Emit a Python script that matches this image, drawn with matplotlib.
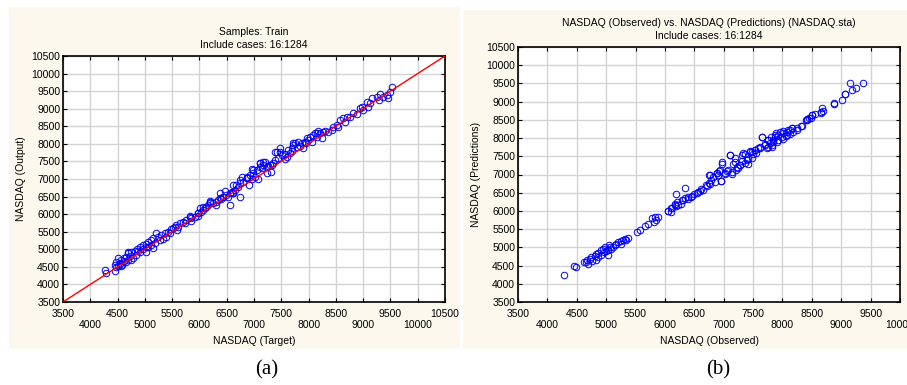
import numpy as np
import matplotlib
matplotlib.use("Agg")
import matplotlib.pyplot as plt
from matplotlib.patches import Rectangle
from matplotlib.ticker import MultipleLocator, FixedLocator

plt.rcParams['font.family'] = ['Liberation Sans', 'DejaVu Sans']

# panel (a): training samples, target vs output
train_target = [9522, 9492, 9430, 9369, 9308, 9247, 9296, 9461, 9155, 9125, 9064, 9094, 8972, 8941, 9003,
                8819, 8758, 8636, 8666, 8575, 8513, 8452, 8422, 8361, 8269, 8208, 8177, 8116, 8086, 8147,
                8024, 7994, 8055, 7933, 7872, 7841, 7811, 7750, 7719, 7780, 7688, 7627, 7658, 7566, 7597,
                7505, 7413, 7444, 7383, 7352, 7291, 7230, 7199, 7107, 7138, 7046, 6985, 7016, 6924, 6863,
                6802, 6771, 6740, 6679, 6649, 6588, 6557, 6496, 6435, 6465, 6740, 7474, 7168,
                6557, 6618, 6374, 6312, 6251, 6202, 6159, 6098, 6007, 6037, 5976, 5915, 5854, 5823,
                5762, 5701, 5640, 5579, 5548, 5487, 5426, 5365, 5304, 5243, 5212, 5151, 5120, 5059, 5029,
                4967, 4906, 4857, 4815, 4753, 4692, 4723, 4662, 4613, 4570, 4509, 4540, 4479, 4448, 4509,
                4589, 4650, 4692, 4784, 4845, 4906, 4967, 5016, 5059, 5120, 5182, 5029, 5151, 5273, 5395,
                5456, 5518, 5609, 5731, 5854, 6128, 6189, 6343, 6435, 4264, 4295, 4448, 4692, 4479, 4552,
                8890, 8700, 8540, 8300, 8240, 7900, 7960, 7560, 7700, 7320, 7260, 7080, 6900, 6960, 6620,
                6880, 7240, 7330, 6700, 6520, 4620, 4560, 4750, 4880, 5340, 5580, 5980, 6070, 6300, 6400,
                6743, 6620, 6957, 7109, 7170, 6193, 6070, 6376, 5979, 5827,
                7384, 7475, 7719, 6986, 7109, 6865, 7965, 8148]
train_output = [9608, 9485, 9390, 9343, 9409, 9324, 9248, 9295, 9295, 9153, 9200, 9058, 9058, 9011, 8963,
                8869, 8774, 8726, 8631, 8679, 8537, 8489, 8394, 8347, 8347, 8300, 8375, 8318, 8252, 8205,
                8205, 8110, 8062, 8062, 8015, 7939, 8062, 8034, 7967, 7920, 7873, 7825, 7730, 7711, 7636,
                7683, 7778, 7588, 7541, 7446, 7398, 7351, 7493, 7446, 7304, 7256, 7161, 7067, 7114, 7019,
                6924, 7067, 6876, 6829, 6687, 6640, 6592, 6545, 6478, 6668, 6497, 7778, 7493,
                6260, 6592, 6450, 6355, 6308, 6383, 6260, 6165, 6165, 6071, 6023, 5928, 5881, 5947,
                5833, 5786, 5739, 5691, 5625, 5568, 5501, 5473, 5407, 5359, 5454, 5312, 5264, 5217, 5151,
                5122, 5056, 4999, 4961, 4932, 4932, 4809, 4790, 4743, 4695, 4743, 4619, 4648, 4553, 4524,
                4553, 4648, 4695, 4743, 4838, 4932, 4999, 5056, 5075, 5122, 5170, 4932, 5028, 5264, 5359,
                5473, 5596, 5644, 5757, 5814, 6213, 6308, 6402, 6497, 4411, 4316, 4383, 4885, 4506, 4581,
                8850, 8760, 8480, 8380, 8160, 7880, 8020, 7560, 7800, 7200, 7380, 7000, 6820, 7000, 6600,
                7020, 7180, 7400, 6760, 6480, 4660, 4520, 4700, 4960, 5300, 5560, 5940, 6120, 6260, 6420,
                6971, 6829, 7275, 7446, 7398, 6354, 6211, 6592, 6023, 5927,
                7776, 7873, 8015, 7256, 7350, 7065, 8158, 8300]
fit_range = [3500, 10500]

# panel (b): observed vs predictions
obs = [9376, 9149, 9251, 9177, 9063, 9007, 8876, 8683, 8649, 8501, 8456, 8411, 8325, 8167, 8098,
       8013, 7957, 7888, 7803, 7644, 7758, 7843, 7928, 8013, 8070, 8127, 8184, 8241, 7871, 7701,
       7616, 7746, 7814, 7531, 7446, 7360, 7502, 7417, 7315, 7406, 7275, 7218, 7190, 7105, 7332,
       7162, 7077, 7020, 7133, 6963, 6935, 6878, 6906, 6952, 6821, 6748, 6765, 6694, 6622, 6565,
       6497, 6452, 6338, 6185, 6395, 6310,
       6168, 6196, 6111, 6055, 6100, 6225, 6282, 5884, 5827, 5782, 5856, 5810, 5714, 5657, 5572,
       5527, 5373, 5344, 5288, 5248, 5203, 5146, 5118, 5089, 5174, 5061, 5033, 5004, 5044, 4948,
       4959, 4919, 4862, 4834, 4806, 4862, 4749, 4721, 4681, 4664, 4766, 4834, 5033, 4919, 4624,
       4692, 4494, 4448, 4278, 4987, 5259, 5316,
       6058, 6116, 6172, 6201, 6286, 6342, 6399, 6456, 6541, 6598, 6644, 6712, 6756, 6785, 6768,
       6853, 6882, 6926, 6967, 6955, 7023, 7062, 7108, 7137, 7193, 7210, 7249, 7278, 7307, 7364,
       7392, 7449, 7477, 7551, 7590,
       9065, 8884, 8669, 8652, 8555, 8499, 8482, 8424, 8402, 8312, 8244, 8159, 8130, 8073, 8016,
       8062, 7989, 7931, 7875, 7846, 7648, 7760, 7704, 7789, 7903, 7619, 7733, 7818, 7534, 7477]
pred = [9512, 9512, 9384, 9310, 9201, 9054, 8926, 8743, 8688, 8624, 8560, 8505, 8322, 8277, 8231,
        8194, 8167, 8139, 8029, 8029, 7938, 7892, 7938, 7984, 8075, 8121, 8167, 8213, 8075, 7846,
        7755, 7755, 7801, 7664, 7636, 7572, 7572, 7435, 7371, 7298, 7252, 7206, 7462, 7536, 7600,
        7298, 7115, 7023, 7023, 7298, 7115, 7041, 6977, 6812, 6932, 6996, 6730, 6703, 6611, 6520,
        6474, 6383, 6629, 6474, 6337, 6291,
        6181, 6126, 6090, 5998, 5971, 6154, 6199, 5833, 5833, 5815, 5742, 5696, 5650, 5577, 5485,
        5421, 5257, 5193, 5211, 5166, 5147, 5056, 5010, 4964, 5102, 5010, 4919, 4900, 5074, 4964,
        4873, 4919, 4855, 4809, 4763, 4736, 4736, 4690, 4663, 4599, 4617, 4663, 4800, 4782, 4599,
        4553, 4462, 4480, 4251, 5010, 5102, 5230,
        6006, 6072, 6163, 6253, 6300, 6347, 6391, 6419, 6484, 6547, 6575, 6693, 6758, 6849, 6986,
        6803, 7049, 7104, 7335, 6830, 7033, 7104, 7535, 7077, 7351, 7124, 7170, 7261, 7535, 7307,
        7398, 7626, 7444, 7582, 7719,
        9202, 8955, 8817, 8708, 8653, 8634, 8560, 8524, 8496, 8332, 8285, 8285, 8222, 8175, 8131,
        8065, 8038, 8084, 8038, 7947, 8038, 7947, 7810, 7856, 7900, 7736, 7719, 7763, 7673, 7626]

cream = '#fcf8ee'
grid_col = '#d3d3d3'
fs = 7.5

fig = plt.figure(figsize=(9.07, 3.85), dpi=100)
fig.add_artist(Rectangle((9 / 907, 1 - 349 / 385), 451 / 907, 342 / 385,
                         transform=fig.transFigure, facecolor=cream, edgecolor='none', zorder=0))
fig.add_artist(Rectangle((463 / 907, 1 - 349 / 385), 444 / 907, 339 / 385,
                         transform=fig.transFigure, facecolor=cream, edgecolor='none', zorder=0))


def setup_axes(ax, xmax, title, xlabel, ylabel):
    ax.set_xlim(3500, xmax)
    ax.set_ylim(3500, 10500)
    # staggered x labels: major row at 3500, 4500, ... minor row at 4000, 5000, ...
    ax.xaxis.set_major_locator(FixedLocator(np.arange(3500, xmax + 1, 1000)))
    ax.xaxis.set_minor_locator(FixedLocator(np.arange(4000, xmax + 1, 1000)))
    ax.xaxis.set_minor_formatter(matplotlib.ticker.FormatStrFormatter('%d'))
    ax.yaxis.set_major_locator(MultipleLocator(500))
    ax.tick_params(which='both', direction='in', top=True, right=True, length=3,
                   width=0.8, labelsize=fs, pad=5)
    ax.tick_params(axis='x', which='minor', pad=13)
    ax.tick_params(axis='y', pad=2)
    ax.grid(True, which='both', color=grid_col, linewidth=1.0)
    ax.set_axisbelow(True)
    for s in ax.spines.values():
        s.set_linewidth(1.2)
    ax.set_title(title, fontsize=fs, pad=6, linespacing=1.3)
    ax.set_xlabel(xlabel, fontsize=fs, labelpad=4)
    ax.set_ylabel(ylabel, fontsize=fs, labelpad=4)


ax1 = fig.add_axes([63 / 907, 1 - 302 / 385, 382 / 907, 246 / 385])
setup_axes(ax1, 10500, 'Samples: Train\nInclude cases: 16:1284', 'NASDAQ (Target)', 'NASDAQ (Output)')
ax1.plot(fit_range, fit_range, color='#ff0000', linewidth=1.0, zorder=3)
ax1.plot(train_target, train_output, linestyle='none', marker='o', markersize=4.7,
         markerfacecolor='none', markeredgecolor='#0000ff', markeredgewidth=0.7, zorder=2)

ax2 = fig.add_axes([518 / 907, 1 - 302 / 385, 382 / 907, 255 / 385])
setup_axes(ax2, 10000, 'NASDAQ (Observed) vs. NASDAQ (Predictions) (NASDAQ.sta)\nInclude cases: 16:1284',
           'NASDAQ (Observed)', 'NASDAQ (Predictions)')
ax2.plot(obs, pred, linestyle='none', marker='o', markersize=4.7,
         markerfacecolor='none', markeredgecolor='#0000ff', markeredgewidth=0.7, zorder=2)

fig.text(267 / 907, 1 - 370 / 385, '(a)', family='Liberation Serif', fontsize=15, ha='center', va='center')
fig.text(718 / 907, 1 - 370 / 385, '(b)', family='Liberation Serif', fontsize=15, ha='center', va='center')

fig.savefig('out.png', dpi=100)
